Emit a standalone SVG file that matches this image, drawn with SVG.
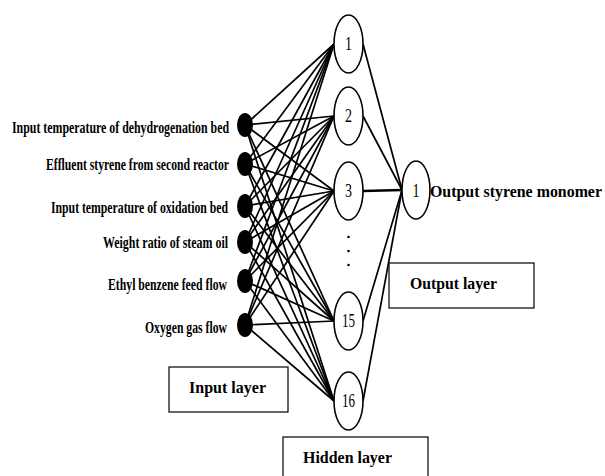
<svg xmlns="http://www.w3.org/2000/svg" width="605" height="476" viewBox="0 0 605 476">
<style>
.lbl{font-family:"Liberation Serif","Times New Roman",serif;font-weight:bold;font-size:16px;fill:#000}
.num{font-family:"Liberation Serif","Times New Roman",serif;font-size:18px;fill:#000;text-anchor:middle}
.c{stroke:#000;stroke-width:1.7;fill:none}
.hn{fill:#fff;stroke:#000;stroke-width:1.6}
.in{fill:#000}
.box{fill:#fff;stroke:#000;stroke-width:1.2}
</style>
<rect width="605" height="476" fill="#fff"/>
<g id="connectors" class="c">
<line x1="245" y1="125" x2="334" y2="44"/><line x1="245" y1="125" x2="334" y2="116"/><line x1="245" y1="125" x2="334" y2="191"/><line x1="245" y1="125" x2="334" y2="321"/><line x1="245" y1="125" x2="334" y2="401"/>
<line x1="245" y1="164" x2="334" y2="44"/><line x1="245" y1="164" x2="334" y2="116"/><line x1="245" y1="164" x2="334" y2="191"/><line x1="245" y1="164" x2="334" y2="321"/><line x1="245" y1="164" x2="334" y2="401"/>
<line x1="245" y1="206" x2="334" y2="44"/><line x1="245" y1="206" x2="334" y2="116"/><line x1="245" y1="206" x2="334" y2="191"/><line x1="245" y1="206" x2="334" y2="321"/><line x1="245" y1="206" x2="334" y2="401"/>
<line x1="245" y1="242" x2="334" y2="44"/><line x1="245" y1="242" x2="334" y2="116"/><line x1="245" y1="242" x2="334" y2="191"/><line x1="245" y1="242" x2="334" y2="321"/><line x1="245" y1="242" x2="334" y2="401"/>
<line x1="245" y1="281" x2="334" y2="44"/><line x1="245" y1="281" x2="334" y2="116"/><line x1="245" y1="281" x2="334" y2="191"/><line x1="245" y1="281" x2="334" y2="321"/><line x1="245" y1="281" x2="334" y2="401"/>
<line x1="245" y1="325" x2="334" y2="44"/><line x1="245" y1="325" x2="334" y2="116"/><line x1="245" y1="325" x2="334" y2="191"/><line x1="245" y1="325" x2="334" y2="321"/><line x1="245" y1="325" x2="334" y2="401"/>
<line x1="363" y1="44" x2="402" y2="190"/><line x1="363" y1="116" x2="402" y2="190"/><line x1="363" y1="191" x2="402" y2="190" stroke-width="2.6"/><line x1="363" y1="321" x2="402" y2="190"/><line x1="363" y1="401" x2="402" y2="190"/>
</g>
<g id="input1"><ellipse class="in" cx="245" cy="125" rx="8" ry="12"/><text class="lbl" x="229" y="133" text-anchor="end" textLength="217" lengthAdjust="spacingAndGlyphs">Input temperature of dehydrogenation bed</text></g>
<g id="input2"><ellipse class="in" cx="245" cy="164" rx="8" ry="12"/><text class="lbl" x="229" y="170" text-anchor="end" textLength="183" lengthAdjust="spacingAndGlyphs">Effluent styrene from second reactor</text></g>
<g id="input3"><ellipse class="in" cx="245" cy="206" rx="8" ry="12"/><text class="lbl" x="228" y="213" text-anchor="end" textLength="177" lengthAdjust="spacingAndGlyphs">Input temperature of oxidation bed</text></g>
<g id="input4"><ellipse class="in" cx="245" cy="242" rx="8" ry="12"/><text class="lbl" x="228" y="248" text-anchor="end" textLength="125" lengthAdjust="spacingAndGlyphs">Weight ratio of steam oil</text></g>
<g id="input5"><ellipse class="in" cx="245" cy="281" rx="8" ry="12"/><text class="lbl" x="227" y="290" text-anchor="end" textLength="119" lengthAdjust="spacingAndGlyphs">Ethyl benzene feed flow</text></g>
<g id="input6"><ellipse class="in" cx="245" cy="325" rx="8" ry="12"/><text class="lbl" x="227" y="333" text-anchor="end" textLength="82" lengthAdjust="spacingAndGlyphs">Oxygen gas flow</text></g>
<g id="hidden1"><ellipse class="hn" cx="348.5" cy="44" rx="14.5" ry="29"/><text class="num" x="348.5" y="50" textLength="7" lengthAdjust="spacingAndGlyphs">1</text></g>
<g id="hidden2"><ellipse class="hn" cx="348.5" cy="116" rx="14.5" ry="29"/><text class="num" x="348.5" y="122" textLength="7" lengthAdjust="spacingAndGlyphs">2</text></g>
<g id="hidden3"><ellipse class="hn" cx="348.5" cy="191" rx="14.5" ry="29"/><text class="num" x="348.5" y="197" textLength="7" lengthAdjust="spacingAndGlyphs">3</text></g>
<g id="dots"><circle cx="348.5" cy="237" r="1.3"/><circle cx="348.5" cy="251" r="1.3"/><circle cx="348.5" cy="265" r="1.3"/></g>
<g id="hidden15"><ellipse class="hn" cx="348.5" cy="321" rx="14.5" ry="29"/><text class="num" x="348.5" y="327" textLength="13" lengthAdjust="spacingAndGlyphs">15</text></g>
<g id="hidden16"><ellipse class="hn" cx="348.5" cy="401" rx="14.5" ry="29"/><text class="num" x="348.5" y="407" textLength="13" lengthAdjust="spacingAndGlyphs">16</text></g>
<g id="output1"><ellipse class="hn" cx="416" cy="190" rx="14" ry="29"/><text class="num" x="416" y="197" textLength="7" lengthAdjust="spacingAndGlyphs">1</text><text class="lbl" x="430" y="197" textLength="172" lengthAdjust="spacingAndGlyphs">Output styrene monomer</text></g>
<g id="outputLayer"><rect class="box" x="389" y="263" width="145" height="45"/><text class="lbl" x="410" y="289" textLength="87" lengthAdjust="spacingAndGlyphs">Output layer</text></g>
<g id="inputLayer"><rect class="box" x="169" y="367" width="119" height="45"/><text class="lbl" x="189" y="393" textLength="77" lengthAdjust="spacingAndGlyphs">Input layer</text></g>
<g id="hiddenLayer"><rect class="box" x="283" y="437" width="145" height="45"/><text class="lbl" x="303" y="463" textLength="89" lengthAdjust="spacingAndGlyphs">Hidden layer</text></g>
</svg>
